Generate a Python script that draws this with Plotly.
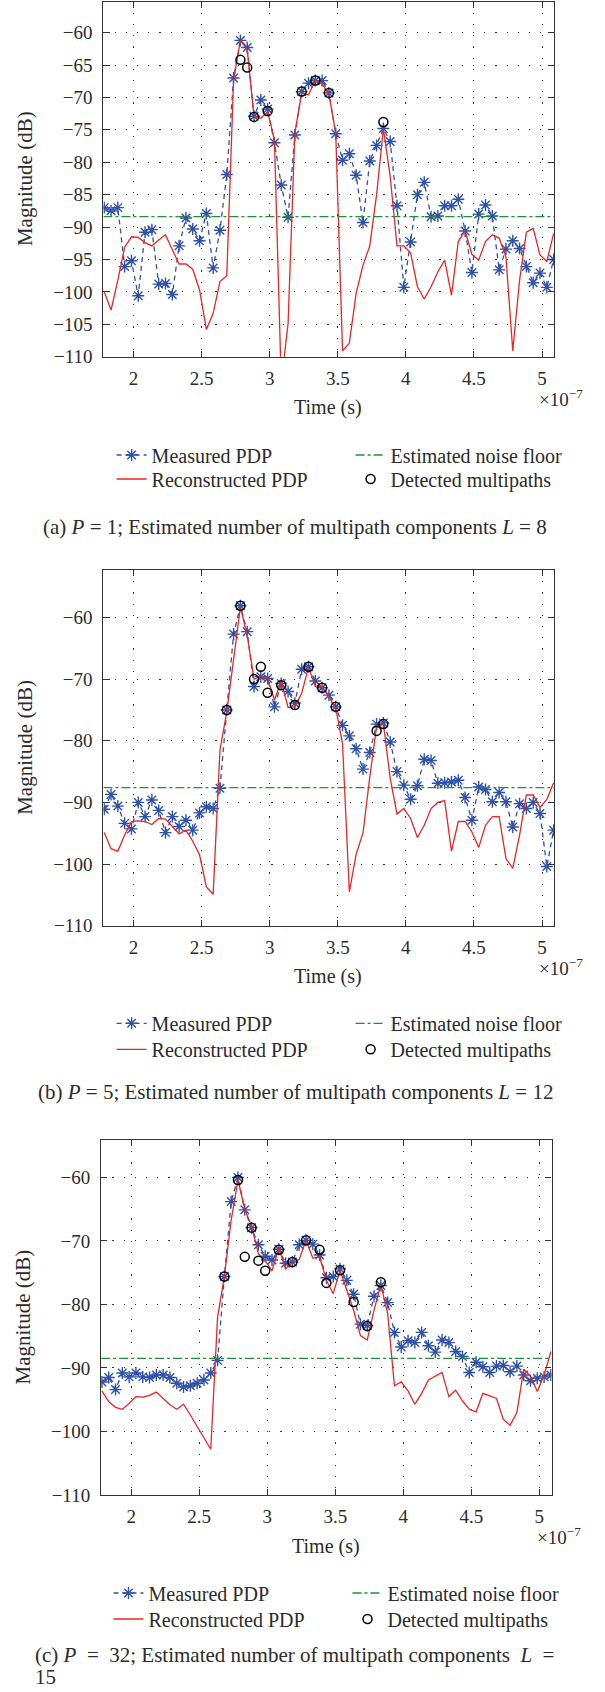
import plotly.graph_objects as go

W, H = 605, 1692
FONT = "Liberation Serif"
TXT = "#2b2b2b"
BLUE = "#2f52a8"
RED = "#ec2424"
GREEN = "#1f8f3a"

# Sample times (units of 1e-7 s)
T = [1.785, 1.835, 1.885, 1.935, 1.985, 2.035, 2.085, 2.135, 2.185, 2.235,
     2.285, 2.335, 2.385, 2.435, 2.485, 2.535, 2.585, 2.635, 2.685, 2.735,
     2.785, 2.835, 2.885, 2.935, 2.985, 3.035, 3.085, 3.135, 3.185, 3.235,
     3.285, 3.335, 3.385, 3.435, 3.485, 3.535, 3.585, 3.635, 3.685, 3.735,
     3.785, 3.835, 3.885, 3.935, 3.985, 4.035, 4.085, 4.135, 4.185, 4.235,
     4.285, 4.335, 4.385, 4.435, 4.485, 4.535, 4.585, 4.635, 4.685, 4.735,
     4.785, 4.835, 4.885, 4.935, 4.985, 5.035, 5.085]
X_RANGE = [1.779, 5.09]
X_TICKS = [2, 2.5, 3, 3.5, 4, 4.5, 5]
X_TICKTEXT = ["2", "2.5", "3", "3.5", "4", "4.5", "5"]

# ---- Panel (a): P = 1 ----
MEAS_A = [-87.0, -87.5, -87.0, -96.1, -95.2, -100.6, -90.8, -90.4, -98.8, -98.7,
          -100.4, -92.9, -88.6, -90.3, -92.1, -87.9, -96.3, -90.5, -81.9, -67.0,
          -61.2, -62.3, -72.9, -70.4, -71.8, -77.0, -83.5, -88.5, -75.8, -69.1,
          -67.8, -67.4, -67.4, -69.3, -75.6, -79.7, -78.7, -82.0, -89.3, -79.8,
          -77.4, -74.8, -76.8, -86.7, -99.3, -92.3, -85.0, -83.1, -88.4, -88.3,
          -86.7, -86.7, -85.7, -90.6, -97.0, -88.0, -86.6, -88.3, -96.6, -93.4,
          -92.1, -93.3, -96.1, -98.6, -97.1, -99.3, -95.0]
REC_A = [-100.0, -102.8, -98.2, -93.1, -91.5, -91.6, -92.4, -92.9, -92.0, -91.2,
         -93.5, -95.7, -95.7, -96.5, -99.7, -105.8, -103.3, -98.4, -97.5, -67.3,
         -61.2, -62.6, -72.9, -73.2, -72.2, -76.6, -114.0, -104.9, -75.5, -69.3,
         -69.6, -67.4, -67.9, -69.5, -75.5, -109.1, -107.9, -100.2, -95.9, -92.9,
         -85.0, -74.8, -82.2, -92.9, -92.9, -94.0, -99.2, -101.1, -99.2, -96.9,
         -95.1, -100.5, -92.2, -90.6, -94.2, -95.1, -92.2, -91.2, -91.7, -94.6,
         -109.1, -98.2, -90.8, -90.2, -94.3, -95.3, -91.0]
DET_A_T = [2.785, 2.835, 2.885, 2.985, 3.235, 3.335, 3.435, 3.835]
DET_A_V = [-64.2, -65.4, -73.0, -72.1, -69.1, -67.4, -69.3, -73.8]
NOISE_A = -88.4

# ---- Panel (b): P = 5 ----
MEAS_B = [-91.1, -88.7, -90.6, -93.4, -94.3, -90.0, -92.3, -89.6, -91.3, -94.9,
          -92.3, -93.9, -92.9, -94.5, -91.7, -90.7, -91.0, -87.7, -75.0, -62.7,
          -58.1, -62.3, -71.2, -69.6, -69.9, -74.5, -70.7, -72.0, -73.9, -68.4,
          -68.0, -70.3, -71.4, -72.6, -74.5, -77.5, -79.2, -81.3, -84.6, -81.9,
          -77.3, -77.1, -80.2, -85.0, -87.2, -89.5, -87.3, -83.0, -83.2, -86.9,
          -86.8, -86.7, -86.4, -89.2, -92.9, -87.5, -87.9, -89.9, -88.4, -89.9,
          -94.0, -90.2, -91.0, -90.0, -91.8, -100.4, -94.5]
REC_B = [-94.9, -97.5, -97.9, -95.3, -93.1, -93.0, -93.1, -93.6, -92.6, -92.7,
         -93.9, -95.1, -94.5, -96.3, -98.5, -103.7, -104.9, -81.5, -75.3, -67.2,
         -58.3, -62.9, -70.0, -69.5, -69.9, -73.4, -70.4, -74.6, -74.5, -72.3,
         -68.1, -71.1, -71.2, -72.9, -74.7, -80.5, -104.5, -98.4, -95.0, -85.9,
         -77.7, -77.2, -86.1, -91.9, -91.0, -92.6, -95.7, -93.7, -91.0, -90.0,
         -89.7, -97.9, -93.1, -93.1, -94.8, -97.3, -93.7, -92.3, -92.3, -99.1,
         -100.7, -95.3, -88.8, -88.8, -90.8, -89.5, -86.8]
DET_B_T = [2.685, 2.785, 2.885, 2.935, 2.985, 3.085, 3.185, 3.285, 3.385, 3.485, 3.785, 3.835]
DET_B_V = [-75.0, -58.1, -70.0, -68.0, -72.2, -71.0, -74.2, -68.0, -71.4, -74.5, -78.4, -77.3]
NOISE_B = -87.6

# ---- Panel (c): P = 32 ----
MEAS_C = [-92.2, -91.5, -93.4, -90.8, -91.4, -90.8, -91.4, -91.5, -91.1, -91.1,
          -91.5, -92.4, -93.0, -92.8, -92.4, -91.9, -90.8, -88.8, -75.6, -63.8,
          -60.0, -65.1, -67.9, -70.6, -72.4, -73.0, -71.3, -73.5, -73.3, -70.6,
          -69.9, -70.5, -72.2, -75.8, -75.6, -74.4, -76.2, -78.4, -83.1, -83.3,
          -78.7, -77.0, -79.7, -84.4, -86.7, -85.7, -86.0, -84.4, -86.5, -87.5,
          -85.6, -86.0, -87.4, -88.2, -90.7, -89.1, -89.8, -90.7, -89.7, -89.6,
          -90.6, -89.7, -91.1, -92.0, -91.6, -91.4, -91.1]
REC_C = [-93.6, -95.3, -96.2, -96.5, -95.6, -94.5, -94.6, -94.3, -93.8, -94.8,
         -95.8, -96.5, -95.7, -97.4, -99.2, -101.2, -102.8, -82.0, -75.6, -66.7,
         -60.4, -65.0, -67.7, -72.0, -73.1, -74.7, -71.1, -74.4, -73.4, -72.9,
         -69.9, -72.7, -72.5, -76.2, -78.3, -74.6, -77.9, -80.9, -84.9, -85.6,
         -80.9, -76.9, -81.4, -92.8, -92.2, -93.6, -95.7, -94.0, -91.9, -91.3,
         -90.7, -94.5, -93.5, -95.2, -96.5, -96.9, -94.0, -94.4, -94.8, -98.1,
         -99.0, -97.0, -90.2, -91.3, -93.7, -91.1, -87.4]
DET_C_T = [2.685, 2.785, 2.835, 2.885, 2.935, 2.985, 3.085, 3.185, 3.285, 3.385,
           3.435, 3.535, 3.635, 3.735, 3.835]
DET_C_V = [-75.6, -60.4, -72.5, -67.9, -73.1, -74.7, -71.4, -73.3, -69.9, -71.4,
           -76.6, -74.6, -79.6, -83.4, -76.5]
NOISE_C = -88.5

# caption lines per panel
CAPTIONS = [
    ["(a) <i>P</i> = 1; Estimated number of multipath components <i>L</i> = 8"],
    ["(b) <i>P</i> = 5; Estimated number of multipath components <i>L</i> = 12"],
    ["(c) <i>P</i>\u00a0 = \u00a032; Estimated number of multipath components\u00a0 <i>L</i>\u00a0 =",
     "15"],
]

# layout geometry (pixels)
PANELS = [
    dict(meas=MEAS_A, rec=REC_A, dt=DET_A_T, dv=DET_A_V, noise=NOISE_A,
         yr=[-110, -55.2], dtick=5, l=103.4, r=554.3, t=1.5, b=356.7,
         ytitle_x=25, leg_x=111.6, leg_y=[455, 479], cap_x=40.5, cap_y=[526.7]),
    dict(meas=MEAS_B, rec=REC_B, dt=DET_B_T, dv=DET_B_V, noise=NOISE_B,
         yr=[-110, -52.3], dtick=10, l=103.4, r=554.3, t=570, b=925.7,
         ytitle_x=25, leg_x=111.6, leg_y=[1023.3, 1049.3], cap_x=35.5, cap_y=[1091.7]),
    dict(meas=MEAS_C, rec=REC_C, dt=DET_C_T, dv=DET_C_V, noise=NOISE_C,
         yr=[-110, -54.1], dtick=10, l=101.1, r=551.6, t=1140, b=1495,
         ytitle_x=22, leg_x=108.5, leg_y=[1593, 1619], cap_x=32.8, cap_y=[1655, 1677]),
]


def px(xp):
    return xp / W


def py(yp):
    return 1 - yp / H


fig = go.Figure()
annotations = []
layout = dict(width=W, height=H, margin=dict(l=0, r=0, t=0, b=0, autoexpand=False),
              paper_bgcolor="white", plot_bgcolor="white",
              font=dict(family=FONT, color=TXT, size=19))

axis_common = dict(showline=True, linecolor="#333333", linewidth=1.3, mirror="ticks",
                   ticks="inside", ticklen=6, tickwidth=1, tickcolor="#333333",
                   showgrid=True, gridcolor="#333333", gridwidth=1.2,
                   griddash="1.2px,10px", zeroline=False,
                   tickfont=dict(family=FONT, size=19, color=TXT))

for i, p in enumerate(PANELS):
    sfx = "" if i == 0 else str(i + 1)
    xa, ya = "x" + sfx, "y" + sfx
    leg1 = "legend" if i == 0 else f"legend{2 * i + 1}"
    leg2 = f"legend{2 * i + 2}"

    fig.add_trace(go.Scatter(
        x=T, y=p["meas"], mode="lines+markers", name="Measured PDP",
        line=dict(color=BLUE, width=1.3, dash="5px,4px"),
        marker=dict(symbol="asterisk-open", size=10, color=BLUE,
                    line=dict(color=BLUE, width=1.4)),
        xaxis=xa, yaxis=ya, legend=leg1))
    fig.add_trace(go.Scatter(
        x=T, y=p["rec"], mode="lines", name="Reconstructed PDP",
        line=dict(color=RED, width=1.3),
        xaxis=xa, yaxis=ya, legend=leg2))
    fig.add_trace(go.Scatter(
        x=X_RANGE, y=[p["noise"], p["noise"]], mode="lines", name="Estimated noise floor",
        line=dict(color=GREEN, width=1.3, dash="dashdot"),
        xaxis=xa, yaxis=ya, legend=leg1))
    fig.add_trace(go.Scatter(
        x=p["dt"], y=p["dv"], mode="markers", name="Detected multipaths",
        marker=dict(symbol="circle-open", size=9, color="black",
                    line=dict(color="black", width=1.5)),
        xaxis=xa, yaxis=ya, legend=leg2))

    layout["xaxis" + sfx] = dict(
        axis_common, domain=[px(p["l"]), px(p["r"])], range=X_RANGE, anchor=ya,
        tickvals=X_TICKS, ticktext=X_TICKTEXT, ticklabelstandoff=4)
    layout["yaxis" + sfx] = dict(
        axis_common, domain=[py(p["b"]), py(p["t"])], range=p["yr"], anchor=xa,
        dtick=p["dtick"], tick0=-110, ticklabelstandoff=6)

    for j, leg in enumerate([leg1, leg2]):
        layout[leg] = dict(orientation="h", x=px(p["leg_x"]), xanchor="left",
                           y=py(p["leg_y"][j]), yanchor="middle",
                           entrywidth=194, entrywidthmode="pixels",
                           font=dict(family=FONT, size=20, color=TXT),
                           bgcolor="rgba(0,0,0,0)", itemclick=False)

    cx = (p["l"] + p["r"]) / 2
    annotations += [
        dict(text="Magnitude (dB)", x=px(p["ytitle_x"]), y=py((p["t"] + p["b"]) / 2),
             textangle=-90, font=dict(size=21)),
        dict(text="Time (s)", x=px(cx - 0.5), y=py(p["b"] + 51), font=dict(size=20)),
        dict(text="×10<sup>−7</sup>", x=px(p["r"] - 17), y=py(p["b"] + 41),
             xanchor="left", font=dict(size=19)),
    ]
    for line_text, ly in zip(CAPTIONS[i], p["cap_y"]):
        annotations.append(dict(text=line_text, x=px(p["cap_x"]), y=py(ly),
                                xanchor="left", align="left", font=dict(size=21)))

for a in annotations:
    a.setdefault("xanchor", "center")
    a.update(xref="paper", yref="paper", showarrow=False, yanchor="middle")

layout["annotations"] = annotations
fig.update_layout(**layout)
fig.write_html("out.html")
